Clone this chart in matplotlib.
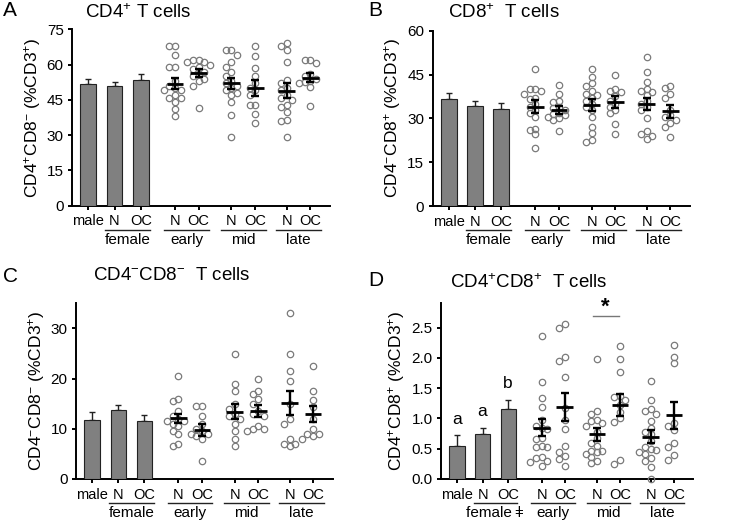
import numpy as np
import matplotlib
matplotlib.use('Agg')
import matplotlib.pyplot as plt
import matplotlib.transforms as mtransforms

plt.rcParams['font.family'] = ['Liberation Sans', 'DejaVu Sans']
plt.rcParams['mathtext.fontset'] = 'custom'
plt.rcParams['mathtext.rm'] = 'Liberation Sans'
plt.rcParams['mathtext.it'] = 'Liberation Sans:italic'
plt.rcParams['mathtext.bf'] = 'Liberation Sans:bold'

# ---- data -------------------------------------------------------------
tick_labels = ['male', 'N', 'OC', 'N', 'OC', 'N', 'OC', 'N', 'OC']
group_names = ['early', 'mid', 'late']

# A: CD4+ T cells
a_bar_mean = [51.6, 50.8, 53.5]
a_bar_sem = [2.3, 1.7, 2.3]
a_early_n = [68, 68, 64, 59, 59, 53, 51, 50, 49, 49, 47, 46, 46, 44, 41, 38]
a_early_oc = [62, 62, 61, 61, 60, 59, 58, 57, 56, 55, 54, 53, 51, 41.5]
a_mid_n = [66, 66, 64, 61, 59, 57, 55, 53, 52, 51, 50, 49, 48, 47, 44, 38.5, 29]
a_mid_oc = [68, 63.5, 58.5, 55, 52, 50, 49, 47, 43, 43, 39, 35]
a_late_n = [69, 68, 66, 61, 53.5, 52, 50, 49, 47, 46, 45, 43, 42, 40, 36.5, 36, 29]
a_late_oc = [62, 62, 60.5, 56, 55, 54, 53, 52.5, 52, 50.5, 42.5]
a_mean = [51.8, 56.3, 52.0, 50.0, 48.9, 54.4]
a_sem = [2.3, 1.7, 2.5, 3.3, 3.2, 1.9]

# B: CD8+ T cells
b_bar_mean = [36.6, 34.3, 33.3]
b_bar_sem = [2.0, 1.5, 1.8]
b_early_n = [47, 40, 40, 39.5, 38.5, 37, 36.5, 35, 34, 33, 32, 30.5, 26.5, 26, 24.5, 20]
b_early_oc = [41.5, 38.5, 36, 35.5, 34, 33.5, 33, 32, 31.5, 31, 30.5, 30, 29.5, 25.5]
b_mid_n = [47, 44, 42, 41, 39.5, 38.5, 38, 37, 36, 35, 34, 33, 30.5, 27, 25, 22.5, 22]
b_mid_oc = [45, 40, 39.5, 39, 37.5, 36, 35, 34, 33, 32, 28, 24.5]
b_late_n = [51, 46, 42.5, 40, 39.5, 39, 38, 36, 35, 34, 33, 30, 25.5, 24.5, 24, 23]
b_late_oc = [41, 40.5, 38.5, 37, 33, 31, 30.5, 29.5, 28.5, 27, 23.5]
b_mean = [34.0, 32.8, 34.6, 35.6, 34.8, 32.4]
b_sem = [2.2, 1.3, 2.1, 2.1, 2.1, 2.3]

# C: CD4-CD8- T cells
c_bar_mean = [11.8, 13.7, 11.5]
c_bar_sem = [1.5, 1.1, 1.2]
c_early_n = [20.5, 16, 15.5, 13.5, 12.5, 12, 11.5, 11.5, 11, 10.5, 9.5, 9, 7, 6.5]
c_early_oc = [14.5, 14.5, 12.5, 11, 10, 9.5, 9, 9, 8.5, 8, 3.5]
c_mid_n = [25, 19, 17.5, 15, 14, 13, 12.5, 12, 11, 9.5, 8, 6.5]
c_mid_oc = [20, 17.5, 17, 16, 15, 13.5, 13, 12.5, 10.5, 10, 10, 9.5]
c_late_n = [33, 25, 21.5, 19.5, 15, 12, 11, 8, 7, 7, 6.5]
c_late_oc = [22.5, 17.5, 15.8, 14.3, 12, 10, 9, 9, 8, 8.5]
c_mean = [12.1, 9.8, 13.4, 13.6, 15.1, 13.0]
c_sem = [0.9, 1.2, 1.5, 1.15, 2.45, 1.55]

# D: CD4+CD8+ T cells
d_bar_mean = [0.54, 0.75, 1.16]
d_bar_sem = [0.18, 0.10, 0.15]
d_early_n = [2.36, 1.6, 1.33, 1.19, 0.97, 0.88, 0.85, 0.82, 0.68, 0.66, 0.54, 0.53,
             0.52, 0.36, 0.34, 0.29, 0.28, 0.22]
d_early_oc = [2.56, 2.5, 2.02, 1.95, 1.69, 1.18, 0.97, 0.82, 0.54, 0.45, 0.38, 0.33, 0.22]
d_mid_n = [1.98, 1.12, 1.07, 0.97, 0.95, 0.93, 0.88, 0.78, 0.67, 0.6, 0.55, 0.47,
           0.46, 0.44, 0.42, 0.37, 0.3, 0.26]
d_mid_oc = [2.2, 1.98, 1.76, 1.37, 1.36, 1.3, 1.22, 1.1, 1.0, 0.94, 0.31, 0.25]
d_late_n = [1.62, 1.31, 1.15, 1.13, 1.07, 0.96, 0.84, 0.78, 0.74, 0.62, 0.53, 0.5,
            0.48, 0.44, 0.42, 0.35, 0.29, 0.2, 0.0]
d_late_oc = [2.21, 2.02, 1.92, 0.92, 0.88, 0.81, 0.6, 0.53, 0.4, 0.31]
d_mean = [0.85, 1.19, 0.74, 1.22, 0.70, 1.05]
d_sem = [0.145, 0.235, 0.11, 0.185, 0.11, 0.225]
d_bar_letters = ['a', 'a', 'b']

# ---- layout -----------------------------------------------------------
W, H = 733, 524
xpos = np.array([0, 1, 2, 3.3, 4.2, 5.45, 6.35, 7.55, 8.45])
XLIM = (-0.62, 9.2)


def swarm(vals, center, xpx, ypx, d=5.6):
    # simple beeswarm in pixel space
    vals = np.asarray(vals, float)
    xs = np.full(len(vals), center)
    placed = []
    for i in np.argsort(-vals):
        y = vals[i] * ypx
        for k in [0, -1, 1, -2, 2, -3, 3]:
            off = k * d
            if all((off - px) ** 2 + (y - py) ** 2 >= d ** 2 for px, py in placed):
                break
        placed.append((off, y))
        xs[i] = center + off / xpx
    return xs


def panel(rect, bar_mean, bar_sem, groups, means, sems, ylim, yticks, ytfmt,
          ylabel, female_label='female'):
    ax = fig.add_axes(rect)
    ax.set_xlim(*XLIM)
    ax.set_ylim(*ylim)
    xpx = rect[2] * W / (XLIM[1] - XLIM[0])
    ypx = rect[3] * H / (ylim[1] - ylim[0])

    ax.bar(xpos[:3], bar_mean, width=0.6, color='#808080', edgecolor='#222222',
           linewidth=0.8, zorder=3)
    ax.errorbar(xpos[:3], bar_mean, yerr=[np.zeros(3), bar_sem], fmt='none',
                ecolor='#222222', elinewidth=1.0, capsize=2.4, capthick=1.0, zorder=2)

    for j, vals in enumerate(groups):
        xc = xpos[3 + j]
        xs = swarm(vals, xc, xpx, ypx)
        ax.plot(xs, vals, 'o', mfc='none', mec='#7a7a7a', ms=4.6, mew=0.9,
                zorder=3, clip_on=False)
        ax.hlines(means[j], xc - 0.32, xc + 0.32, color='black', lw=2.0, zorder=5)
        ax.errorbar(xc, means[j], yerr=sems[j], fmt='none', ecolor='black',
                    elinewidth=1.7, capsize=2.7, capthick=1.7, zorder=5)

    for s in ['top', 'right']:
        ax.spines[s].set_visible(False)
    for s in ['left', 'bottom']:
        ax.spines[s].set_linewidth(1.4)
    ax.set_xticks(xpos)
    ax.set_xticklabels(tick_labels, fontsize=10.5)
    ax.set_yticks(yticks)
    ax.set_yticklabels([ytfmt.format(v) for v in yticks], fontsize=11)
    ax.tick_params(axis='both', width=1.4, length=3, pad=3)
    ax.tick_params(axis='x', pad=3.3)
    ax.set_ylabel(ylabel, fontsize=12.5, labelpad=3)

    # group underlines and names
    trans = mtransforms.blended_transform_factory(ax.transData, ax.transAxes)
    centers = [(xpos[1] + xpos[2]) / 2] + [(xpos[3 + 2 * k] + xpos[4 + 2 * k]) / 2 for k in range(3)]
    names = [female_label] + group_names
    for c, nm in zip(centers, names):
        ax.plot([c - 0.85, c + 0.85], [-0.139, -0.139], color='#222222', lw=1.0,
                transform=trans, clip_on=False)
        ax.text(c, -0.196, nm, transform=trans, ha='center', va='center', fontsize=11)
    return ax


fig = plt.figure(figsize=(W / 100, H / 100), dpi=100)

axA = panel([72 / W, 1 - 205.7 / H, 258 / W, 176.4 / H], a_bar_mean, a_bar_sem,
            [a_early_n, a_early_oc, a_mid_n, a_mid_oc, a_late_n, a_late_oc],
            a_mean, a_sem, (0, 75), [0, 15, 30, 45, 60, 75], '{:g}',
            r'CD4$^{+}$CD8$^{-}$ (%CD3$^{+}$)')
axB = panel([432.7 / W, 1 - 206 / H, 257.3 / W, 175.3 / H], b_bar_mean, b_bar_sem,
            [b_early_n, b_early_oc, b_mid_n, b_mid_oc, b_late_n, b_late_oc],
            b_mean, b_sem, (0, 60), [0, 15, 30, 45, 60], '{:g}',
            r'CD4$^{-}$CD8$^{+}$ (%CD3$^{+}$)')
axC = panel([76 / W, 1 - 479 / H, 256.7 / W, 175.7 / H], c_bar_mean, c_bar_sem,
            [c_early_n, c_early_oc, c_mid_n, c_mid_oc, c_late_n, c_late_oc],
            c_mean, c_sem, (0, 35), [0, 10, 20, 30], '{:g}',
            r'CD4$^{-}$CD8$^{-}$ (%CD3$^{+}$)')
axD = panel([441 / W, 1 - 479 / H, 252 / W, 175.7 / H], d_bar_mean, d_bar_sem,
            [d_early_n, d_early_oc, d_mid_n, d_mid_oc, d_late_n, d_late_oc],
            d_mean, d_sem, (0, 2.9), [0, 0.5, 1.0, 1.5, 2.0, 2.5], '{:.1f}',
            r'CD4$^{+}$CD8$^{+}$ (%CD3$^{+}$)', female_label='female\u2009\u01c2')

# letters over D bars
for xb, m, s, lt in zip(xpos[:3], d_bar_mean, d_bar_sem, d_bar_letters):
    axD.text(xb, m + s + 0.14, lt, ha='center', va='bottom', fontsize=12.5)
# significance mid N vs OC
axD.plot([xpos[5] - 0.15, xpos[6] - 0.05], [2.69, 2.69], color='#777777', lw=1, clip_on=False)
axD.text((xpos[5] + xpos[6]) / 2 - 0.1, 2.66, '*', ha='center', va='bottom',
         fontsize=16, fontweight='bold')

# panel letters and titles
for lx, ly, lt in [(3, 11, 'A'), (368, 11, 'B'), (3, 276, 'C'), (368, 280, 'D')]:
    fig.text(lx / W, 1 - ly / H, lt, fontsize=15, va='center', ha='left')
for tx, ty, tt in [(85, 13, r'CD4$^{+}$ T cells'), (448, 13, r'CD8$^{+}$  T cells'),
                   (93, 275, r'CD4$^{-}$CD8$^{-}$  T cells'),
                   (450, 283, r'CD4$^{+}$CD8$^{+}$  T cells')]:
    fig.text(tx / W, 1 - ty / H, tt, fontsize=13.5, va='center', ha='left')

fig.savefig('out.png', dpi=100)
